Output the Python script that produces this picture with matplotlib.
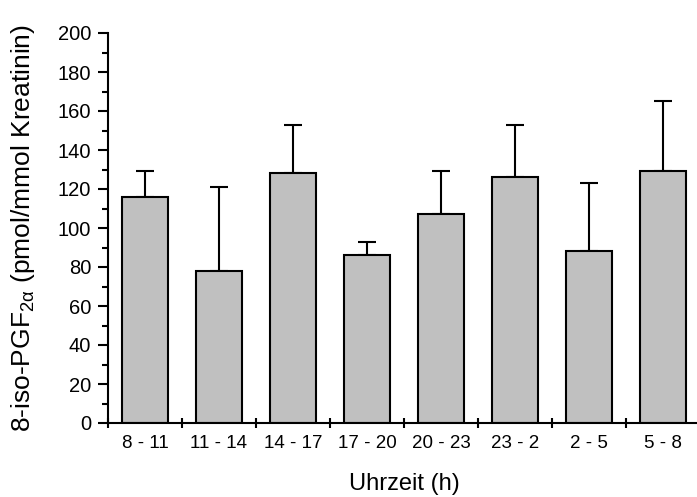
import numpy as np
import matplotlib
matplotlib.use("Agg")
from matplotlib import pyplot as plt
from matplotlib.ticker import MultipleLocator

plt.rcParams['font.family'] = ['Liberation Sans', 'DejaVu Sans']
plt.rcParams['mathtext.fontset'] = 'custom'
plt.rcParams['mathtext.rm'] = 'Liberation Sans'
plt.rcParams['mathtext.it'] = 'Liberation Sans:italic'

# Time windows and measured values
zeiten = ['8 - 11', '11 - 14', '14 - 17', '17 - 20', '20 - 23', '23 - 2', '2 - 5', '5 - 8']
mittelwert = [116, 78, 128, 86, 107, 126, 88, 129]
fehler = [13, 43, 25, 7, 22, 27, 35, 36]

fig = plt.figure(figsize=(6.97, 4.97), dpi=100)
ax = fig.add_axes([108 / 697, 74 / 497, 592 / 697, 390 / 497])

x = np.arange(len(zeiten))
ax.bar(x, mittelwert, width=0.61, color='#c0c0c0', edgecolor='black', linewidth=1.5, zorder=2)
ax.errorbar(x, mittelwert, yerr=[np.zeros(len(fehler)), fehler], fmt='none',
            ecolor='black', elinewidth=1.5, capsize=6.5, capthick=1.5, zorder=1)

ax.set_xlim(-0.5, len(zeiten) - 0.5)
ax.set_ylim(0, 200)
ax.spines['top'].set_visible(False)
ax.spines['right'].set_visible(False)
ax.spines['left'].set_linewidth(1.5)
ax.spines['bottom'].set_linewidth(1.5)

# y axis: major every 20, minor every 10
ax.yaxis.set_major_locator(MultipleLocator(20))
ax.yaxis.set_minor_locator(MultipleLocator(10))
ax.tick_params(axis='y', which='major', length=7, width=1.5, labelsize=14.5, pad=5)
ax.tick_params(axis='y', which='minor', length=4.5, width=1.5)

# x axis: ticks between the bars, labels centred under them
ax.set_xticks(np.arange(len(zeiten) + 1) - 0.5)
ax.set_xticklabels([])
ax.set_xticks(x, minor=True)
ax.set_xticklabels(zeiten, minor=True)
ax.tick_params(axis='x', which='major', direction='inout', length=7, width=1.5)
ax.tick_params(axis='x', which='minor', length=0, labelsize=13.5, pad=9)

ax.set_xlabel('Uhrzeit (h)', fontsize=17, labelpad=15)
ax.set_ylabel(r'8-iso-PGF$_{\mathrm{2α}}$ (pmol/mmol Kreatinin)', fontsize=19, labelpad=15)

fig.savefig('out.png', dpi=100)
